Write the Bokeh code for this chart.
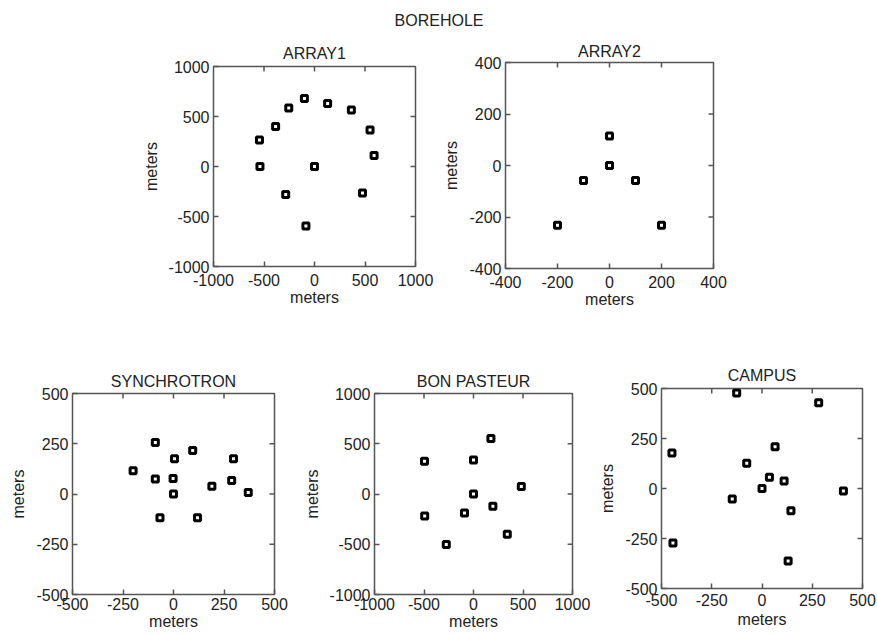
from bokeh.plotting import figure
from bokeh.layouts import row, column
from bokeh.models import Range1d, FixedTicker
from bokeh.embed import file_html
from bokeh.resources import INLINE
from bokeh.core.properties import value

suptitle = "BOREHOLE"
axis_label = "meters"

array1_title = "ARRAY1"
array1_x = [-100, 130, 365, 550, 590, 475, -85, -285, 0, -540, -545, -385, -255]
array1_y = [680, 630, 565, 365, 110, -265, -595, -280, 0, 0, 265, 400, 585]
array1_ticks = [-1000, -500, 0, 500, 1000]

array2_title = "ARRAY2"
array2_x = [0, 0, -100, 100, -200, 200]
array2_y = [115, 0, -58, -58, -232, -232]
array2_ticks = [-400, -200, 0, 200, 400]

sync_title = "SYNCHROTRON"
sync_x = [-90, 95, 5, 297, -200, -90, -2, 190, 288, 370, 0, -67, 119]
sync_y = [256, 216, 175, 175, 116, 75, 77, 38, 67, 8, 0, -118, -118]
sync_ticks = [-500, -250, 0, 250, 500]

bon_title = "BON PASTEUR"
bon_x = [176, -495, 0, 483, 0, 196, -91, -493, 341, -275]
bon_y = [551, 325, 338, 75, 0, -121, -190, -220, -400, -502]
bon_ticks = [-1000, -500, 0, 500, 1000]

campus_title = "CAMPUS"
campus_x = [-126, 282, -448, 65, -76, 37, 110, 0, -148, 405, 144, -443, 130]
campus_y = [478, 429, 178, 209, 126, 56, 38, 0, -53, -13, -111, -272, -362]
campus_ticks = [-500, -250, 0, 250, 500]

FONT = "Liberation Sans"
TXT = "#222222"
FRAME = "#555555"
TICK_PX = 5


def make_panel(title, xs, ys, ticks, width, height, left, right, top, bottom,
               title_standoff, xlab_standoff, xaxis_standoff):
    lo, hi = ticks[0], ticks[-1]
    p = figure(width=width, height=height,
               x_range=Range1d(lo, hi), y_range=Range1d(lo, hi),
               output_backend="svg", toolbar_location=None,
               min_border_left=left, min_border_right=right,
               min_border_top=top, min_border_bottom=bottom,
               title=title)
    p.title.align = "center"
    p.title.text_font = FONT
    p.title.text_font_size = "16px"
    p.title.text_font_style = "normal"
    p.title.text_color = TXT
    p.title.standoff = title_standoff
    p.grid.visible = False
    p.outline_line_color = FRAME
    p.outline_line_width = 1.5
    p.background_fill_color = "white"
    p.border_fill_color = "white"
    for ax in (p.xaxis[0], p.yaxis[0]):
        ax.ticker = FixedTicker(ticks=ticks)
        ax.major_label_overrides = {t: str(t) for t in ticks}
        ax.axis_line_color = None
        ax.major_tick_in = TICK_PX
        ax.major_tick_out = 0
        ax.minor_tick_line_color = None
        ax.major_tick_line_color = FRAME
        ax.major_tick_line_width = 1.5
        ax.major_label_text_font = FONT
        ax.major_label_text_font_size = "16px"
        ax.major_label_text_color = TXT
        ax.axis_label = axis_label
        ax.axis_label_text_font = FONT
        ax.axis_label_text_font_size = "16px"
        ax.axis_label_text_font_style = "normal"
        ax.axis_label_text_color = TXT
    p.xaxis[0].major_label_standoff = xlab_standoff
    p.xaxis[0].axis_label_standoff = xaxis_standoff
    p.yaxis[0].major_label_standoff = 4
    p.yaxis[0].axis_label_standoff = 6
    # inward ticks on the top and right edges of the frame
    inner = ticks[1:-1]
    fw = width - left - right
    fh = height - top - bottom
    dx = (hi - lo) * TICK_PX / fw
    dy = (hi - lo) * TICK_PX / fh
    p.segment(x0=inner, y0=[hi] * len(inner), x1=inner, y1=[hi - dy] * len(inner),
              line_color=FRAME, line_width=1.5)
    p.segment(x0=[hi] * len(inner), y0=inner, x1=[hi - dx] * len(inner), y1=inner,
              line_color=FRAME, line_width=1.5)
    p.scatter(xs, ys, marker="square", size=6, fill_color="white",
              line_color="black", line_width=3)
    return p


head = figure(width=877, height=30, x_range=Range1d(0, 1), y_range=Range1d(0, 1),
              output_backend="svg", toolbar_location=None, min_border=0,
              x_axis_type=None, y_axis_type=None, outline_line_color=None)
head.text(x=[0.5], y=[0.33], text=[suptitle], text_align="center",
          text_baseline="middle", text_font=value(FONT), text_font_size="16px",
          text_color=TXT)

# row 1: y 30..318
p1 = make_panel(array1_title, array1_x, array1_y, array1_ticks,
                435, 288, 213, 20, 36, 52, 10, 7, 0)
p2 = make_panel(array2_title, array2_x, array2_y, array2_ticks,
                442, 288, 70, 164, 32, 50, 5, 7, 0)
# row 2: y 318..634
p3 = make_panel(sync_title, sync_x, sync_y, sync_ticks,
                300, 316, 72, 26, 75, 40, 7, 3, 0)
p4 = make_panel(bon_title, bon_x, bon_y, bon_ticks,
                293, 316, 69, 21, 75, 40, 7, 3, 0)
p5 = make_panel(campus_title, campus_x, campus_y, campus_ticks,
                284, 316, 68, 15, 70, 46, 9, 5, 2)

layout = column(head,
                row(column(p1), column(p2)),
                row(column(p3), column(p4), column(p5)))

open("out.html", "w").write(file_html(layout, INLINE))
